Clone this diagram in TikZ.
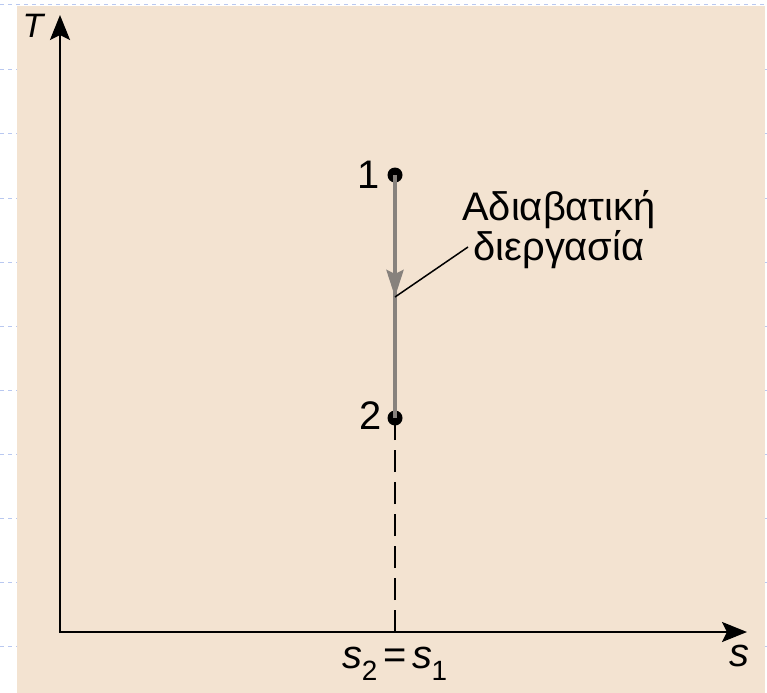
\documentclass[tikz,border=0pt]{standalone}
\usepackage{fontspec}
\setmainfont{Liberation Sans}
\usetikzlibrary{arrows.meta}
\definecolor{bgbeige}{RGB}{243,227,209}
\definecolor{procgray}{RGB}{135,130,125}
\definecolor{gridblue}{RGB}{185,200,240}
\tikzset{
  axisline/.style={line width=2.5bp, -{Stealth[length=25bp,width=20bp,inset=5bp]}},
  statedot/.style={circle, fill=black, inner sep=0pt, minimum size=15bp},
  biglabel/.style={inner sep=0pt, font=\fontsize{40}{38}\selectfont},
  procline/.style={line width=4bp, draw=procgray},
  gridmark/.style={draw=gridblue, line width=1bp, dash pattern=on 4bp off 4bp}
}
\begin{document}
\begin{tikzpicture}[x=1bp,y=-1bp]
\useasboundingbox (0,0) rectangle (767,693);
\fill[bgbeige] (17,6) rectangle (765,693);
% faint page marks
\draw[gridmark] (0,5) -- (767,5);
\foreach \yy in {70,134,198,262,326,390,454,518,582,646}{
  \draw[gridmark] (0,\yy) -- (17,\yy);
  \draw[gridmark] (765,\yy) -- (767,\yy);
}
% axes
\coordinate (O) at (60,632);
\coordinate (yTip) at (60,15);
\coordinate (xTip) at (747,632);
\draw[axisline] (O) -- (yTip);
\draw[axisline] ([xshift=-1.25bp]O) -- (xTip);
\node[biglabel, font=\fontsize{34}{36}\selectfont\itshape] (Tlab) at (33,26) {T};
\node[biglabel, font=\fontsize{40}{38}\selectfont\itshape] (slab) at (739,656) {s};
% states
\node[statedot] (p1) at (395,175) {};
\node[statedot] (p2) at (395,418) {};
\node[biglabel] (l1) at (369,175) {1};
\node[biglabel] (l2) at (371,416) {2};
\coordinate (mid) at (395,297);
\coordinate (foot) at (395,632);
\draw[procline] ([yshift=10bp]mid) -- (p2.center);
\draw[procline, -{Stealth[length=27bp,width=17bp,inset=4bp]}] (p1.center) -- (mid);
\draw[line width=2.8bp, dash pattern=on 22bp off 10bp] (foot) -- (p2.center);
% label
\node[biglabel, align=center, anchor=base] (proc) at (559,260) {Αδιαβατική\\διεργασία};
\coordinate (leadEnd) at (468,247);
\draw[line width=1.5bp] (mid) -- (leadEnd);
% s2 = s1
\node[biglabel, anchor=base] (seq) at (395,668) {\textit{s}\kern-1bp\raisebox{-12bp}{\fontsize{28}{28}\selectfont 2}\kern6bp=\kern6bp\textit{s}\kern-1bp\raisebox{-12bp}{\fontsize{28}{28}\selectfont 1}};
\end{tikzpicture}
\end{document}
